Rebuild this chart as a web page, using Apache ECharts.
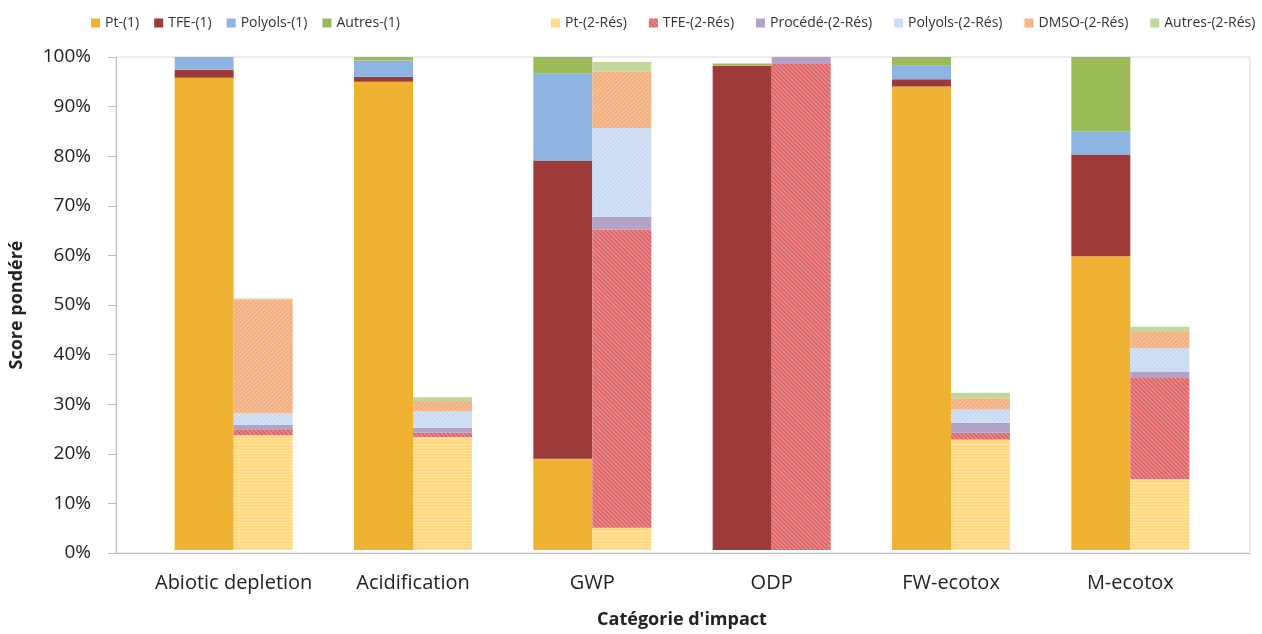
<!DOCTYPE html>
<html>
<head>
<meta charset="utf-8">
<script src="https://cdn.jsdelivr.net/npm/echarts@6/dist/echarts.min.js"></script>
<style>
  html, body { margin: 0; padding: 0; background: #fff; }
  #chart { width: 1262px; height: 634px; }
</style>
</head>
<body>
<div id="chart"></div>
<script>
var categories = ['Abiotic depletion', 'Acidification', 'GWP', 'ODP', 'FW-ecotox', 'M-ecotox'];
var yTicks = [0, 10, 20, 30, 40, 50, 60, 70, 80, 90, 100];

// premier scénario (1)
var pt1 = [95.8, 95.0, 18.5, 0, 94.0, 59.6];
var tfe1 = [1.6, 1.0, 60.5, 98.2, 1.5, 20.6];
var polyols1 = [2.6, 3.3, 17.7, 0.1, 2.7, 4.7];
var autres1 = [0, 0.7, 3.3, 0.4, 1.8, 15.1];

// second scénario (2-Rés)
var pt2 = [23.3, 22.9, 4.5, 0, 22.4, 14.4];
var tfe2 = [1.2, 0.9, 60.5, 98.6, 1.4, 20.5];
var procede2 = [0.9, 1.0, 2.6, 1.4, 2.0, 1.3];
var polyols2 = [2.4, 3.4, 18.0, 0, 2.7, 4.7];
var dmso2 = [23.0, 2.0, 11.4, 0, 2.3, 3.3];
var autres2 = [0.2, 0.8, 2.0, 0, 1.1, 1.1];

var font = 'Open Sans';
var myChart = echarts.init(document.getElementById('chart'));

function hatch(rot, col) {
    return {
        symbol: 'rect',
        symbolSize: 1,
        dashArrayX: [1, 0],
        dashArrayY: [1, 2],
        rotation: rot,
        color: col
    };
}

function bar(name, stack, data, color, decal) {
    var s = {
        name: name,
        type: 'bar',
        stack: stack,
        barWidth: 59,
        barGap: '0%',
        xAxisIndex: 0,
        yAxisIndex: 0,
        data: data,
        itemStyle: { color: color }
    };
    if (decal) s.itemStyle.decal = decal;
    return s;
}

option = {
    backgroundColor: '#fff',
    textStyle: { fontFamily: font },
    legend: [
        {
            left: 86, top: 11,
            itemWidth: 9, itemHeight: 9, itemGap: 15,
            icon: 'rect',
            textStyle: { fontSize: 14, color: '#333', fontFamily: font },
            data: ['Pt-(1)', 'TFE-(1)', 'Polyols-(1)', 'Autres-(1)']
        },
        {
            left: 546, top: 11,
            itemWidth: 9, itemHeight: 9, itemGap: 22,
            icon: 'rect',
            textStyle: { fontSize: 14, color: '#333', fontFamily: font },
            data: ['Pt-(2-Rés)', 'TFE-(2-Rés)', 'Procédé-(2-Rés)', 'Polyols-(2-Rés)', 'DMSO-(2-Rés)', 'Autres-(2-Rés)']
        }
    ],
    grid: [
        { left: 144, right: 42, top: 57, bottom: 81 },
        { left: 115, right: 12, top: 57, bottom: 81, show: true, borderColor: '#d9d9d9', borderWidth: 1, backgroundColor: 'transparent' }
    ],
    xAxis: [
        {
            type: 'category',
            gridIndex: 0,
            data: categories,
            axisLine: { show: false },
            axisTick: { show: false },
            axisLabel: { interval: 0, fontSize: 20, color: '#222', margin: 23, fontFamily: font },
            name: "Catégorie d'impact",
            nameLocation: 'middle',
            nameGap: 61,
            nameTextStyle: { fontSize: 18, fontWeight: 'bold', color: '#222', fontFamily: font }
        },
        {
            type: 'value',
            gridIndex: 1,
            min: 0, max: 1,
            axisLine: { show: true, onZero: false, lineStyle: { color: '#bfbfbf' } },
            axisTick: { show: false },
            axisLabel: { show: false },
            splitLine: { show: false }
        }
    ],
    yAxis: [
        {
            type: 'value',
            gridIndex: 0,
            min: 0, max: 100,
            show: false
        },
        {
            type: 'value',
            gridIndex: 1,
            min: yTicks[0], max: yTicks[yTicks.length - 1], interval: 10,
            axisLine: { show: true, lineStyle: { color: '#bfbfbf' } },
            axisTick: { show: true, length: 8, lineStyle: { color: '#bfbfbf' } },
            axisLabel: { fontSize: 19, color: '#222', margin: 25, formatter: '{value}%', fontFamily: font },
            splitLine: { show: false },
            name: 'Score pondéré',
            nameLocation: 'middle',
            nameGap: 90,
            nameTextStyle: { fontSize: 18, fontWeight: 'bold', color: '#222', fontFamily: font }
        }
    ],
    series: [
        bar('Pt-(1)', 's1', pt1, '#F0B232'),
        bar('TFE-(1)', 's1', tfe1, '#9C3B3A'),
        bar('Polyols-(1)', 's1', polyols1, '#8EB4E3'),
        bar('Autres-(1)', 's1', autres1, '#9BBB59'),
        bar('Pt-(2-Rés)', 's2', pt2, '#FFD97F', hatch(0, 'rgba(255,255,255,0.25)')),
        bar('TFE-(2-Rés)', 's2', tfe2, '#DE6467', hatch(Math.PI / 4, 'rgba(255,255,255,0.35)')),
        bar('Procédé-(2-Rés)', 's2', procede2, '#B3A2C7'),
        bar('Polyols-(2-Rés)', 's2', polyols2, '#C6D9F1', hatch(-Math.PI / 4, 'rgba(255,255,255,0.35)')),
        bar('DMSO-(2-Rés)', 's2', dmso2, '#F2AE7E', hatch(-Math.PI / 4, 'rgba(255,255,255,0.3)')),
        bar('Autres-(2-Rés)', 's2', autres2, '#C3D69B')
    ]
};

myChart.setOption(option);
</script>
</body>
</html>
